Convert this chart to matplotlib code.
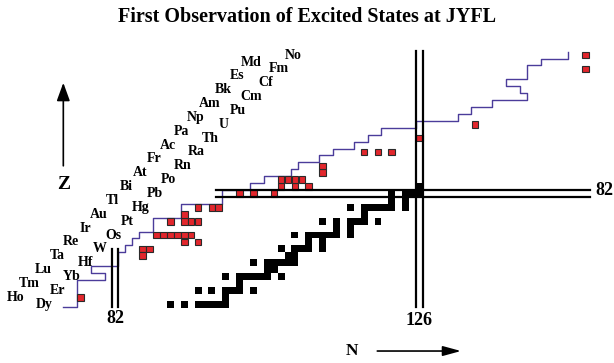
import matplotlib
matplotlib.use('Agg')
import matplotlib.pyplot as plt
from matplotlib.patches import Rectangle

plt.rcParams['font.family'] = ['Liberation Serif', 'DejaVu Serif']
plt.rcParams['font.weight'] = 'bold'

# element symbols, starting at Z = 66
elements = ['Dy', 'Ho', 'Er', 'Tm', 'Yb', 'Lu', 'Hf', 'Ta', 'W', 'Re', 'Os', 'Ir',
            'Pt', 'Au', 'Hg', 'Tl', 'Pb', 'Bi', 'Po', 'At', 'Rn', 'Fr', 'Ra', 'Ac',
            'Th', 'Pa', 'U', 'Np', 'Pu', 'Am', 'Cm', 'Bk', 'Cf', 'Es', 'Fm', 'Md', 'No']
first_z = 66

# stable nuclei (black squares): neutron numbers for each Z
stable_z = list(range(66, 84))
stable_n = [
    [90, 92, 94, 95, 96, 97, 98],          # Dy
    [98],                                  # Ho
    [94, 96, 98, 99, 100, 102],            # Er
    [100],                                 # Tm
    [98, 100, 101, 102, 103, 104, 106],    # Yb
    [104, 105],                            # Lu
    [102, 104, 105, 106, 107, 108],        # Hf
    [107, 108],                            # Ta
    [106, 108, 109, 110, 112],             # W
    [110, 112],                            # Re
    [108, 110, 111, 112, 113, 114, 116],   # Os
    [114, 116],                            # Ir
    [112, 114, 116, 117, 118, 120],        # Pt
    [118],                                 # Au
    [116, 118, 119, 120, 121, 122, 124],   # Hg
    [122, 124],                            # Tl
    [122, 124, 125, 126],                  # Pb
    [126],                                 # Bi
]

# first observation of excited states at JYFL (red squares)
jyfl_n = [77, 86, 87, 86, 88, 89, 90, 91, 92, 93, 92, 94, 90, 92, 93, 94, 92,
          94, 96, 97, 100, 102, 105, 106, 108, 110, 106, 107, 108, 109, 112, 112,
          118, 120, 122, 126, 134, 150, 150]
jyfl_z = [67, 74, 74, 73, 76, 76, 76, 76, 76, 76, 75, 75, 78, 78, 78, 78, 79,
          80, 80, 80, 82, 82, 82, 83, 83, 83, 84, 84, 84, 84, 85, 86,
          88, 88, 88, 90, 92, 100, 102]

# limit of known nuclei (purple staircase)
limit_n = [74.5, 76.5, 76.5, 80.5, 80.5, 78.5, 78.5, 82.5, 82.5, 83.5, 83.5, 84.5,
           84.5, 85.5, 85.5, 87.5, 87.5, 91.5, 91.5, 97.5, 97.5, 101.5, 101.5,
           103.5, 103.5, 107.5, 107.5, 108.5, 108.5, 111.5, 111.5, 113.5, 113.5,
           116.5, 116.5, 118.5, 118.5, 120.5, 120.5, 125.5, 125.5, 131.5, 131.5,
           133.5, 133.5, 136.5, 136.5, 141.5, 141.5, 140.5, 140.5, 138.5, 138.5,
           141.5, 141.5, 143.5, 143.5, 147.5, 147.5]
limit_z = [65.6, 65.6, 69.5, 69.5, 70.5, 70.5, 71.5, 71.5, 73.5, 73.5, 74.5, 74.5,
           75.5, 75.5, 76.5, 76.5, 78.5, 78.5, 80.5, 80.5, 82.5, 82.5, 83.5,
           83.5, 84.5, 84.5, 85.5, 85.5, 86.5, 86.5, 87.5, 87.5, 88.5,
           88.5, 89.5, 89.5, 90.5, 90.5, 91.5, 91.5, 92.5, 92.5, 93.5,
           93.5, 94.5, 94.5, 95.5, 95.5, 96.5, 96.5, 97.5, 97.5, 98.5,
           98.5, 100.5, 100.5, 101.5, 101.5, 102.5]

magic_n = [82, 126]
magic_z = [82]


def main():
    fig = plt.figure(figsize=(6.14, 3.63), dpi=100)
    ax = fig.add_axes([0, 0, 1, 1])
    ax.set_xlim(65.38, 154.11)
    ax.set_ylim(57.51, 109.96)
    ax.axis('off')

    # stable nuclei
    for z, ns in zip(stable_z, stable_n):
        for n in ns:
            ax.add_patch(Rectangle((n - 0.5, z - 0.5), 1, 1, facecolor='black',
                                   edgecolor='none', zorder=3))

    # new excited states
    for n, z in zip(jyfl_n, jyfl_z):
        ax.add_patch(Rectangle((n - 0.48, z - 0.48), 0.96, 0.96, facecolor='#e2262c',
                               edgecolor='#2a2a2a', linewidth=0.8, zorder=4))

    ax.plot(limit_n, limit_z, color='#4b3c9a', lw=1.0, zorder=2)

    # magic number lines
    lw = 1.6
    for x in (81.5, 82.5):
        ax.plot([x, x], [65.6, 74.0], color='black', lw=lw, zorder=5)
    for x in (125.5, 126.5):
        ax.plot([x, x], [65.6, 102.6], color='black', lw=lw, zorder=5)
    for y in (81.5, 82.5):
        ax.plot([96.6, 150.6], [y, y], color='black', lw=lw, zorder=5)
    ax.text(magic_n[0], 64.0, str(magic_n[0]), ha='center', va='center', fontsize=13)
    ax.text(magic_n[1], 63.6, str(magic_n[1]), ha='center', va='center', fontsize=13)
    ax.text(152.7, magic_z[0] + 0.4, str(magic_z[0]), ha='center', va='center', fontsize=13)

    # element labels in two diagonal columns
    for i, sym in enumerate(elements):
        z = first_z + i
        n = z + (5.75 if z % 2 == 0 else 0.65)
        ax.text(n, z, sym, ha='center', va='center', fontsize=10)

    # axis arrows
    ax.annotate('', xy=(74.53, 98.4), xytext=(74.53, 85.6),
                arrowprops=dict(arrowstyle='-|>,head_length=1.1,head_width=0.4',
                                color='black', lw=1.2))
    ax.text(74.6, 83.3, 'Z', ha='center', va='center', fontsize=14)
    ax.annotate('', xy=(132.4, 59.24), xytext=(119.5, 59.24),
                arrowprops=dict(arrowstyle='-|>,head_length=1.1,head_width=0.3',
                                color='black', lw=1.2))
    ax.text(116.2, 59.2, 'N', ha='center', va='center', fontsize=12.5)

    fig.text(0.5, 1 - 16.7 / 363, 'First Observation of Excited States at JYFL',
             ha='center', va='center', fontsize=14.5)

    fig.savefig('out.png', dpi=100)
    return 0


if __name__ == '__main__':
    main()
